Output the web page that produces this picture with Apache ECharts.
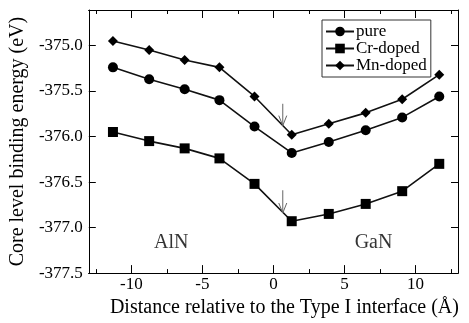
<!DOCTYPE html>
<html>
<head>
<meta charset="utf-8">
<script src="https://cdn.jsdelivr.net/npm/echarts@6/dist/echarts.min.js"></script>
<style>html,body{margin:0;padding:0;background:#fff}#c{width:469px;height:323px}</style>
</head>
<body>
<div id="c"></div>
<script>
var distances = [-11.3, -8.75, -6.25, -3.8, -1.33, 1.29, 3.9, 6.5, 9.07, 11.68];
var pure = [-375.24, -375.37, -375.48, -375.60, -375.89, -376.18, -376.06, -375.93, -375.79, -375.56];
var crDoped = [-375.95, -376.05, -376.13, -376.24, -376.52, -376.93, -376.85, -376.74, -376.60, -376.30];
var mnDoped = [-374.95, -375.05, -375.16, -375.24, -375.56, -375.98, -375.86, -375.74, -375.59, -375.32];
var seriesNames = ['pure', 'Cr-doped', 'Mn-doped'];
var xMajorTicks = [-10, -5, 0, 5, 10];
var xMinorTicks = [-12.5, -7.5, -2.5, 2.5, 7.5, 12.5];
var yTicks = [-377.5, -377.0, -376.5, -376.0, -375.5, -375.0];
// arrows: [x, yStart, yEnd]
var arrows = [[0.66, -375.64, -375.88], [0.66, -376.59, -376.84]];
// region labels: [x, y, text]
var regionLabels = [[-7.2, -377.17, 'AlN'], [7.05, -377.17, 'GaN']];

var FONT = '"Liberation Serif", "DejaVu Serif", serif';
function pairs(xs, ys) { return xs.map(function (x, i) { return [x, ys[i]]; }); }

var chart = echarts.init(document.getElementById('c'), null, { renderer: 'canvas' });
var xRange = { min: -13, max: 13 };
var yRange = { min: -377.5, max: -374.61 };
var lineColor = '#000';

function xAxisDef(pos, ticks, len, showLabel, name) {
  return {
    type: 'value', position: pos, min: xRange.min, max: xRange.max, gridIndex: 0,
    axisLine: { show: true, onZero: false, lineStyle: { color: lineColor, width: 1 } },
    axisTick: { show: true, inside: true, length: len, customValues: ticks, lineStyle: { color: lineColor, width: 1 } },
    axisLabel: { show: showLabel, customValues: ticks, margin: 3, fontFamily: FONT, fontSize: 17, color: '#000' },
    splitLine: { show: false },
    name: name || '', nameLocation: 'middle', nameGap: 16,
    nameTextStyle: { fontFamily: FONT, fontSize: 20, color: '#000', padding: [0, 0, 0, 22] }
  };
}
function yAxisDef(pos, showLabel, name) {
  return {
    type: 'value', position: pos, min: yRange.min, max: yRange.max, gridIndex: 0,
    axisLine: { show: true, onZero: false, lineStyle: { color: lineColor, width: 1 } },
    axisTick: { show: true, inside: true, length: 7, customValues: yTicks, lineStyle: { color: lineColor, width: 1 } },
    axisLabel: { show: showLabel, customValues: yTicks, margin: 6, fontFamily: FONT, fontSize: 17, color: '#000',
      formatter: function (v) { return v.toFixed(1); } },
    splitLine: { show: false },
    name: name || '', nameLocation: 'middle', nameGap: 60,
    nameTextStyle: { fontFamily: FONT, fontSize: 20, color: '#000' }
  };
}

function lineSeries(name, ys, symbol, size) {
  return {
    name: name, type: 'line', xAxisIndex: 0, yAxisIndex: 0,
    data: pairs(distances, ys), symbol: symbol, symbolSize: size,
    lineStyle: { color: '#111', width: 1.6 },
    itemStyle: { color: '#000' },
    emphasis: { disabled: true }, animation: false, z: 3
  };
}

chart.setOption({
  animation: false,
  backgroundColor: '#fff',
  grid: { left: 88, right: 11, top: 10, bottom: 41, containLabel: false },
  legend: {
    data: seriesNames, orient: 'vertical', left: 322, top: 20,
    borderColor: '#333', borderWidth: 1, borderRadius: 0, padding: [3, 4, 3, 3],
    itemWidth: 28, itemHeight: 12, itemGap: 0,
    textStyle: { fontFamily: FONT, fontSize: 17, color: '#000', padding: [0, 0, 0, -3] }
  },
  xAxis: [
    xAxisDef('bottom', xMajorTicks, 8, true, 'Distance relative to the Type I interface (\u00c5)'),
    xAxisDef('bottom', xMinorTicks, 4, false),
    xAxisDef('top', xMajorTicks, 8, false),
    xAxisDef('top', xMinorTicks, 4, false)
  ],
  yAxis: [
    yAxisDef('left', true, 'Core level binding energy (eV)'),
    yAxisDef('right', false)
  ],
  series: [
    lineSeries(seriesNames[0], pure, 'circle', 10),
    lineSeries(seriesNames[1], crDoped, 'rect', 10),
    lineSeries(seriesNames[2], mnDoped, 'diamond', 10),
    {
      type: 'custom', xAxisIndex: 0, yAxisIndex: 0, data: arrows, z: 4, silent: true,
      renderItem: function (params, api) {
        var p0 = api.coord([api.value(0), api.value(1)]);
        var p1 = api.coord([api.value(0), api.value(2)]);
        var st = { stroke: '#666', lineWidth: 1, fill: null };
        return {
          type: 'group', children: [
            { type: 'line', shape: { x1: p0[0], y1: p0[1], x2: p1[0], y2: p1[1] }, style: st },
            { type: 'polyline', shape: { points: [[p1[0] - 4, p1[1] - 10], [p1[0], p1[1]], [p1[0] + 4, p1[1] - 10]] }, style: st }
          ]
        };
      }
    },
    {
      type: 'scatter', xAxisIndex: 0, yAxisIndex: 0, symbolSize: 0, silent: true,
      data: regionLabels.map(function (d) { return { value: [d[0], d[1]], name: d[2] }; }),
      label: { show: true, position: 'inside', formatter: '{b}', fontFamily: FONT, fontSize: 20, color: '#000' }
    }
  ]
});
</script>
</body>
</html>
